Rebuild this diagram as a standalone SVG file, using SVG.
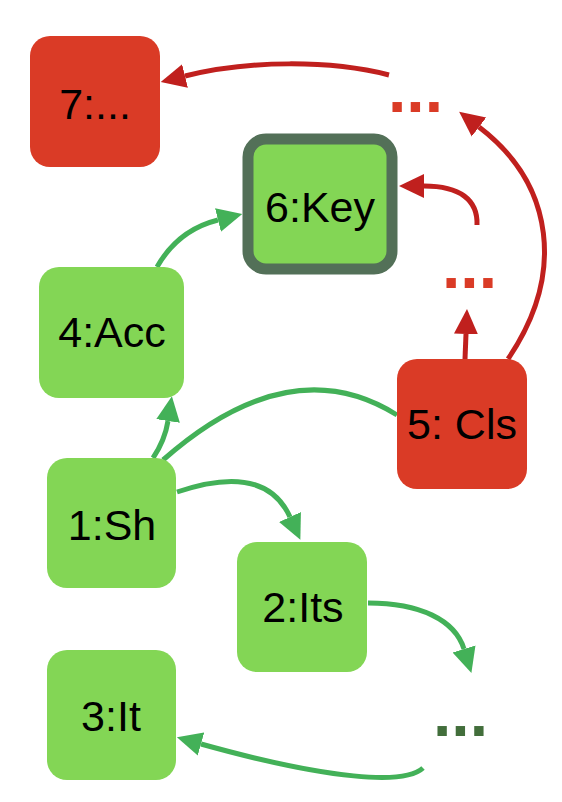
<svg xmlns="http://www.w3.org/2000/svg" width="562" height="802" viewBox="0 0 562 802">
<style>
.lbl{font-family:"Liberation Sans",Arial,Helvetica,sans-serif;font-size:43px;fill:#000;text-anchor:middle}
.dots{font-family:"Liberation Sans",Arial,Helvetica,sans-serif;font-size:66px;font-weight:bold}
.g{fill:#83d655}
.r{fill:#da3b26}
.eg{fill:none;stroke:#43b158;stroke-width:5}
.er{fill:none;stroke:#c0201e;stroke-width:5}
</style>
<defs>
<marker id="ag" markerUnits="userSpaceOnUse" markerWidth="26" markerHeight="26" refX="0" refY="12" orient="auto" viewBox="0 0 26 24">
<path d="M0,0 L25,12 L0,24 z" fill="#43b158"/>
</marker>
<marker id="ar" markerUnits="userSpaceOnUse" markerWidth="26" markerHeight="26" refX="0" refY="12" orient="auto" viewBox="0 0 26 24">
<path d="M0,0 L25,12 L0,24 z" fill="#c0201e"/>
</marker>
</defs>
<rect width="562" height="802" fill="#fff"/>
<g id="connectors">
<path class="eg" d="M157,267 Q178,230 218,220" marker-end="url(#ag)"/>
<path class="eg" d="M153,458 Q165,440 168,421" marker-end="url(#ag)"/>
<path class="eg" d="M163,460 Q290,348 397,415"/>
<path class="eg" d="M177,492 Q265,462 290,517" marker-end="url(#ag)"/>
<path class="eg" d="M368,603 C420,603 455,620 464,649" marker-end="url(#ag)"/>
<path class="eg" d="M423,768 C405,785 330,780 201,744" marker-end="url(#ag)"/>
<path class="er" d="M389,75 C330,60 250,60 185,76" marker-end="url(#ar)"/>
<path class="er" d="M477,225 C478,200 460,186 424,186" marker-end="url(#ar)"/>
<path class="er" d="M465,359 L466,334" marker-end="url(#ar)"/>
<path class="er" d="M508,359 C565,275 555,185 479,127" marker-end="url(#ar)"/>
</g>
<g id="n7"><rect class="r" x="30" y="36" width="130" height="131" rx="20"/><text class="lbl" x="95" y="119">7:...</text></g>
<g id="n6"><rect class="g" x="248" y="139" width="144" height="130" rx="18" stroke="#537058" stroke-width="11"/><text class="lbl" x="320" y="222">6:Key</text></g>
<g id="n4"><rect class="g" x="39" y="267" width="145" height="131" rx="20"/><text class="lbl" x="112" y="347">4:Acc</text></g>
<g id="n5"><rect class="r" x="397" y="359" width="130" height="130" rx="20"/><text class="lbl" x="462" y="439">5: Cls</text></g>
<g id="n1"><rect class="g" x="47" y="458" width="129" height="130" rx="20"/><text class="lbl" x="112" y="540">1:Sh</text></g>
<g id="n2"><rect class="g" x="237" y="542" width="130" height="130" rx="20"/><text class="lbl" x="303" y="622">2:Its</text></g>
<g id="n3"><rect class="g" x="47" y="650" width="129" height="130" rx="20"/><text class="lbl" x="111" y="731">3:It</text></g>
<g id="d1"><text class="dots" x="388" y="112" fill="#da3b26">...</text></g>
<g id="d2"><text class="dots" x="442" y="288" fill="#da3b26">...</text></g>
<g id="d3"><text class="dots" x="433" y="736" fill="#426e3b">...</text></g>
</svg>
